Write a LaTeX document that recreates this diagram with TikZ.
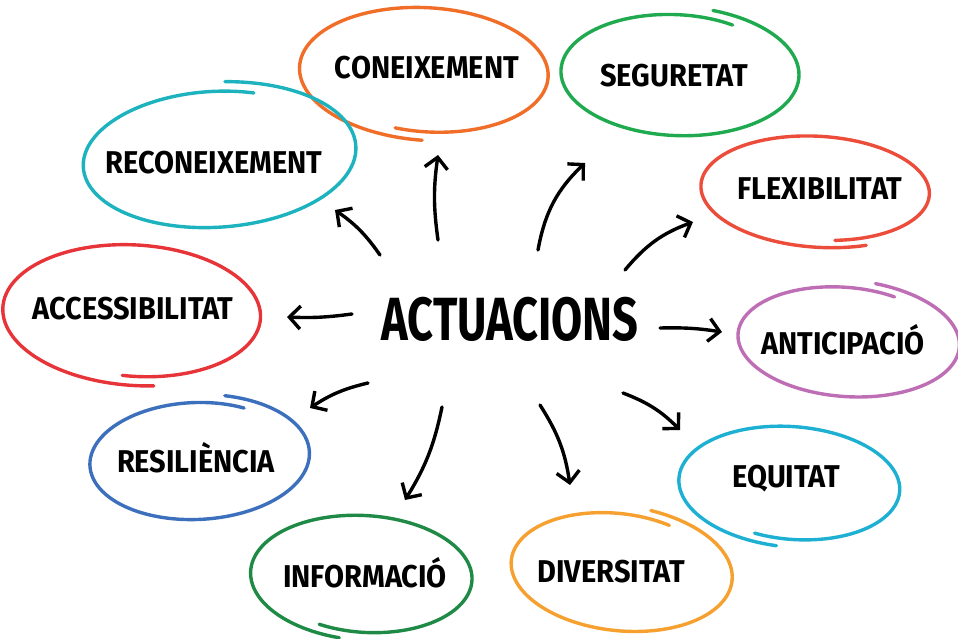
\documentclass[tikz,border=0pt]{standalone}
\usepackage{fontspec}
\setmainfont{Fira Sans}
\newfontfamily\lblfont{Fira Sans}[FakeStretch=0.92]
\newfontfamily\bigfont{Fira Sans}[FakeStretch=0.74]
\usetikzlibrary{arrows.meta}
\definecolor{cOrange}{RGB}{240,110,40}
\definecolor{cGreen}{RGB}{32,170,80}
\definecolor{cTeal}{RGB}{28,178,190}
\definecolor{cRedO}{RGB}{236,76,58}
\definecolor{cRed}{RGB}{230,52,56}
\definecolor{cPurple}{RGB}{190,110,180}
\definecolor{cBlue}{RGB}{60,112,188}
\definecolor{cCyan}{RGB}{30,176,210}
\definecolor{cDGreen}{RGB}{30,138,70}
\definecolor{cYell}{RGB}{246,160,48}
\tikzset{
  lbl/.style={font=\lblfont\bfseries\fontsize{31.5}{34}\selectfont, text=black, inner sep=0pt},
  big/.style={font=\bigfont\bfseries\fontsize{61}{70}\selectfont, text=black, inner sep=0pt},
  loopline/.style={line width=3.4pt, line cap=round, line join=round},
  arr/.style={line width=3.4pt, line cap=round, line join=round,
    -{Straight Barb[length=11pt,width=23pt,line width=3.4pt]}}
}
% cx cy rx ry rot start colour
\newcommand{\hloop}[7]{%
  \draw[#7, loopline, rotate around={#5:(#1,#2)}]
    plot[domain=#6:#6+374, samples=110, smooth]
    ({#1+#3*(0.93+0.14*(\x-#6)/374)*cos(\x)},
     {#2+#4*(0.93+0.14*(\x-#6)/374)*sin(\x)});
}
\begin{document}
\begin{tikzpicture}[x=1pt,y=1pt]
\useasboundingbox[fill=white] (0,0) rectangle (958,-639);

% hand-drawn loops
\hloop{428}{-72}{124}{64}{-3}{255}{cOrange}
\hloop{676}{-73}{118}{62}{-2}{60}{cGreen}
\hloop{215}{-157}{136}{70}{4}{70}{cTeal}
\hloop{819}{-190}{115}{54}{-3}{280}{cRedO}
\hloop{136}{-313}{129}{68}{-3}{265}{cRed}
\hloop{845}{-340}{110}{56}{-4}{63}{cPurple}
\hloop{196}{-459}{109}{60}{3}{60}{cBlue}
\hloop{793}{-485}{110}{58}{-4}{250}{cCyan}
\hloop{365}{-576}{110}{60}{-3}{245}{cDGreen}
\hloop{618}{-570}{110}{60}{-6}{63}{cYell}

% nodes
\node[big] (ctr) at (510,-319) {ACTUACIONS};
\node[lbl] (con) at (427,-68) {CONEIXEMENT};
\node[lbl] (seg) at (674,-76) {SEGURETAT};
\node[lbl] (rec) at (214,-163) {RECONEIXEMENT};
\node[lbl] (flx) at (820,-189) {FLEXIBILITAT};
\node[lbl] (acc) at (133,-309) {ACCESSIBILITAT};
\node[lbl] (ant) at (843,-340) {ANTICIPACIÓ};
\node[lbl] (res) at (196,-458) {RESILIÈNCIA};
\node[lbl] (equ) at (786,-479) {EQUITAT};
\node[lbl] (inf) at (365,-573) {INFORMACIÓ};
\node[lbl] (div) at (611,-572) {DIVERSITAT};

% arrow end points
\coordinate (s1) at (438,-240);  \coordinate (e1) at (438,-155);
\coordinate (s2) at (538,-250);  \coordinate (e2) at (585,-163);
\coordinate (s3) at (380,-255);  \coordinate (e3) at (335,-210);
\coordinate (s4) at (625,-270);  \coordinate (e4) at (693,-222);
\coordinate (s5) at (352,-314);  \coordinate (e5) at (287,-317);
\coordinate (s6) at (660,-328);  \coordinate (e6) at (722,-332);
\coordinate (s7) at (368,-383);  \coordinate (e7) at (310,-408);
\coordinate (s8) at (623,-393);  \coordinate (e8) at (680,-430);
\coordinate (s9) at (442,-407);  \coordinate (e9) at (405,-500);
\coordinate (s10) at (540,-405); \coordinate (e10) at (570,-485);

\draw[arr] (s1) to[bend left=8] (e1);
\draw[arr] (s2) to[bend left=18] (e2);
\draw[arr] (s3) to[bend right=10] (e3);
\draw[arr] (s4) to[bend left=15] (e4);
\draw[arr] (s5) to[bend left=5] (e5);
\draw[arr] (s6) to[bend left=5] (e6);
\draw[arr] (s7) to[bend right=10] (e7);
\draw[arr] (s8) to[bend left=12] (e8);
\draw[arr] (s9) to[bend left=10] (e9);
\draw[arr] (s10) to[bend left=12] (e10);
\end{tikzpicture}
\end{document}
